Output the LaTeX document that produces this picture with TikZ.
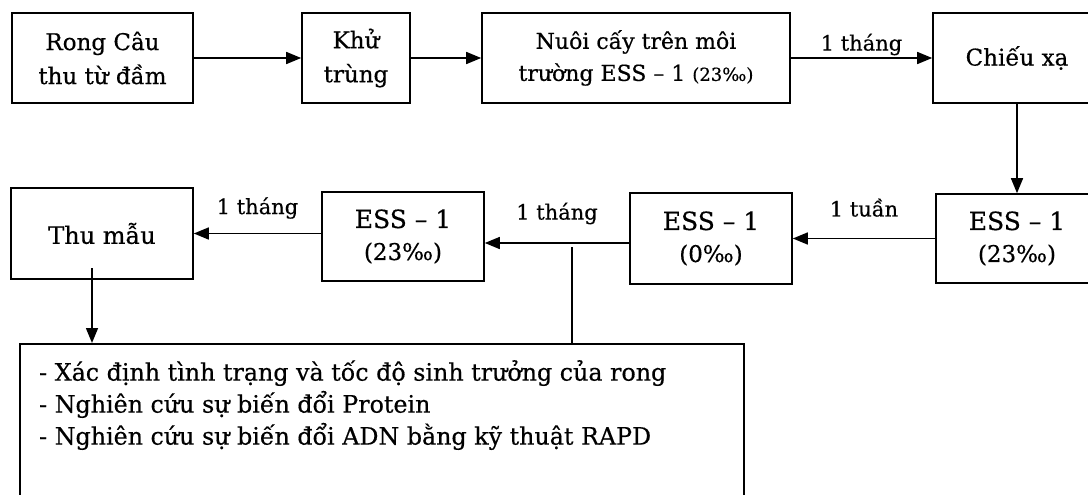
\documentclass[tikz,border=0pt]{standalone}
\usepackage{fontspec}
\setmainfont{DejaVu Serif}[FakeBold=0.5]
\newfontfamily\narrowfont{DejaVu Serif}[FakeStretch=0.99, FakeBold=0.5]
\usetikzlibrary{arrows.meta,positioning}

\begin{document}
\begin{tikzpicture}[x=1pt, y=-1pt,
  box/.style={draw, line width=1.6pt, align=center, inner sep=0pt, font=\fontsize{23}{34}\selectfont},
  arr/.style={line width=1.5pt, -{Triangle[length=15pt, width=12pt]}},
  plain/.style={line width=1.5pt},
  lab/.style={font=\fontsize{21}{25}\selectfont, inner sep=2pt}]
  \useasboundingbox (0,0) rectangle (1088,495);
  % Top row
  \node[box, minimum width=181pt, minimum height=90pt] (rong) at (102.5,58) {Rong Câu\\thu từ đầm};
  \node[box, minimum width=108pt, minimum height=90pt] (khu) at (356,58) {Khử\\trùng};
  \node[box, minimum width=308pt, minimum height=90pt, font=\fontsize{22}{32}\selectfont] (nuoi) at (636,58) {Nuôi cấy trên môi\\trường ESS – 1 {\fontsize{18}{32}\selectfont(23‰)}};
  \node[box, minimum width=168pt, minimum height=90pt] (chieu) at (1017,58) {\raisebox{-3pt}{Chiếu xạ}};
  % Second row
  \node[box, minimum width=162pt, minimum height=89pt, font=\fontsize{23}{32}\selectfont] (essR) at (1017,238.5) {{\fontsize{25}{32}\selectfont ESS – 1}\\(23‰)};
  \node[box, minimum width=162pt, minimum height=91pt, font=\fontsize{23}{32}\selectfont] (ess0) at (711,238.5) {{\fontsize{25}{32}\selectfont ESS – 1}\\(0‰)};
  \node[box, minimum width=162pt, minimum height=89pt, font=\fontsize{23}{32}\selectfont] (ess23) at (403,236.5) {{\fontsize{25}{32}\selectfont ESS – 1}\\(23‰)};
  \node[box, minimum width=182pt, minimum height=91pt, font=\fontsize{24}{34}\selectfont] (thu) at (102,233.5) {Thu mẫu};
  % Result box
  \node[draw, line width=1.6pt, anchor=north west, minimum width=724pt, minimum height=200pt, inner sep=0pt] (res) at (19,343) {};
  \node[anchor=north west, align=left, inner sep=0pt, font=\narrowfont\fontsize{24}{32}\selectfont] (resTxt) at (39,360)
    {- Xác định tình trạng và tốc độ sinh trưởng của rong\\- Nghiên cứu sự biến đổi Protein\\- Nghiên cứu sự biến đổi ADN bằng kỹ thuật RAPD};
  % Connectors
  \draw[arr] (rong) -- (khu);
  \draw[arr] (khu) -- (nuoi);
  \draw[arr] (nuoi) -- node[lab, above] (t1) {1 tháng} (chieu);
  \draw[arr] (essR) -- node[lab, above=19pt] (t2) {1 tuần} (ess0);
  \draw[arr] (chieu) -- (essR);
  \draw[arr] ([yshift=-4.5pt]ess0.west) -- node[lab, above=16pt] (t3) {1 tháng} ([yshift=-4.5pt]ess0.west -| ess23.east);
  \draw[arr] (ess23.west |- thu) -- node[lab, above=12pt] (t4) {1 tháng} (thu);
  % Taps to result box
  \coordinate (tap1) at (92,268);
  \coordinate (tap2) at (572,247);
  \draw[arr] (tap1) -- (tap1 |- res.north);
  \draw[plain] (tap2) -- (tap2 |- res.north);
\end{tikzpicture}
\end{document}
